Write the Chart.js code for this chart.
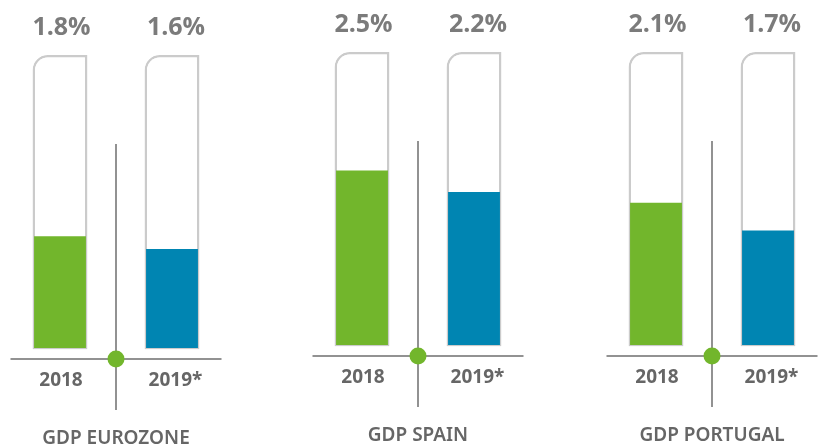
<!DOCTYPE html>
<html>
<head>
<meta charset="utf-8">
<script src="https://cdn.jsdelivr.net/npm/chart.js@4/dist/chart.umd.min.js"></script>
<style>
  html, body { margin: 0; padding: 0; background: #ffffff; overflow: hidden; }
  #wrap { position: relative; width: 824px; height: 448px; overflow: hidden; }
  #wrap canvas { position: absolute; }
</style>
</head>
<body>
<div id="wrap">
  <canvas id="c0" width="224" height="448"></canvas>
  <canvas id="c1" width="224" height="448"></canvas>
  <canvas id="c2" width="224" height="448"></canvas>
</div>
<script>
// ---- data ----
const panelTitles = ['GDP EUROZONE', 'GDP SPAIN', 'GDP PORTUGAL'];
const years = ['2018', '2019*'];
const growth2018 = [1.8, 2.5, 2.1];
const growth2019 = [1.6, 2.2, 1.7];
const tubeMax = [4.62, 4.15, 4.26];   // per-panel scale top (the grey tube)

// ---- layout / style ----
const panelLeft = [4, 306, 600];
const panelTop = [3, 0, 0];
const GREEN = '#72b62c';
const BLUE = '#0085b2';
const TUBE = '#cbcbcb';
const AXIS = '#6e6e6e';
const FONT = "'Open Sans', 'Liberation Sans', sans-serif";
const TITLE_FONT = "'Noto Sans', 'Open Sans', sans-serif";

const overlayPlugin = {
  id: 'overlay',
  afterDatasetsDraw(chart, args, opts) {
    const ctx = chart.ctx;
    const area = chart.chartArea;
    const x = chart.scales.x;
    const cx = (area.left + area.right) / 2;
    const axisY = area.bottom + 9.5;
    ctx.save();
    // vertical divider
    ctx.strokeStyle = AXIS;
    ctx.lineWidth = 1.5;
    ctx.beginPath();
    ctx.moveTo(cx, area.top + 89);
    ctx.lineTo(cx, area.bottom + 60.5);
    ctx.stroke();
    // horizontal axis
    ctx.beginPath();
    ctx.moveTo(cx - 105.5, axisY);
    ctx.lineTo(cx + 105.5, axisY);
    ctx.stroke();
    // dot
    ctx.fillStyle = GREEN;
    ctx.beginPath();
    ctx.arc(cx, axisY, 8.5, 0, Math.PI * 2);
    ctx.fill();
    // labels
    const vals = chart.data.datasets[0].data;
    const shift = [1.5, 4];
    ctx.textAlign = 'center';
    ctx.textBaseline = 'alphabetic';
    chart.data.labels.forEach((lab, i) => {
      const px = x.getPixelForValue(i);
      ctx.fillStyle = '#7b7b7b';
      ctx.font = '700 25px ' + FONT;
      ctx.fillText(vals[i].toFixed(1) + '%', px + shift[i], area.top - 20.5);
      ctx.fillStyle = '#666666';
      ctx.font = '700 19px ' + FONT;
      ctx.fillText(lab, px + shift[i] - 0.5, area.bottom + 36.5);
    });
    ctx.fillStyle = '#666666';
    ctx.font = '600 19px ' + TITLE_FONT;
    ctx.fillText(opts.title, cx, chart.height - 7);
    ctx.restore();
  }
};

function makePanel(i) {
  const canvas = document.getElementById('c' + i);
  canvas.style.left = panelLeft[i] + 'px';
  canvas.style.top = panelTop[i] + 'px';
  return new Chart(canvas, {
    type: 'bar',
    data: {
      labels: years,
      datasets: [
        {
          label: 'GDP growth',
          data: [growth2018[i], growth2019[i]],
          backgroundColor: [GREEN, BLUE],
          borderColor: 'rgba(0,0,0,0)',
          borderWidth: 1.5,
          borderSkipped: false,
          barPercentage: 0.49,
          categoryPercentage: 1,
          grouped: false,
          order: 0
        },
        {
          label: 'tube',
          data: [tubeMax[i], tubeMax[i]],
          backgroundColor: '#ffffff',
          borderColor: TUBE,
          borderWidth: 2.5,
          borderSkipped: false,
          borderRadius: { topLeft: 15, topRight: 0, bottomLeft: 0, bottomRight: 0 },
          barPercentage: 0.49,
          categoryPercentage: 1,
          grouped: false,
          order: 1
        }
      ]
    },
    options: {
      responsive: false,
      animation: false,
      devicePixelRatio: 1,
      layout: { padding: { left: 0, right: 0, top: 52, bottom: 101.5 } },
      plugins: {
        legend: { display: false },
        tooltip: { enabled: false },
        overlay: { title: panelTitles[i] }
      },
      scales: {
        x: { display: false, offset: true, grid: { display: false } },
        y: { display: false, min: 0, max: tubeMax[i], grid: { display: false } }
      }
    },
    plugins: [overlayPlugin]
  });
}

[0, 1, 2].forEach(makePanel);
</script>
</body>
</html>
